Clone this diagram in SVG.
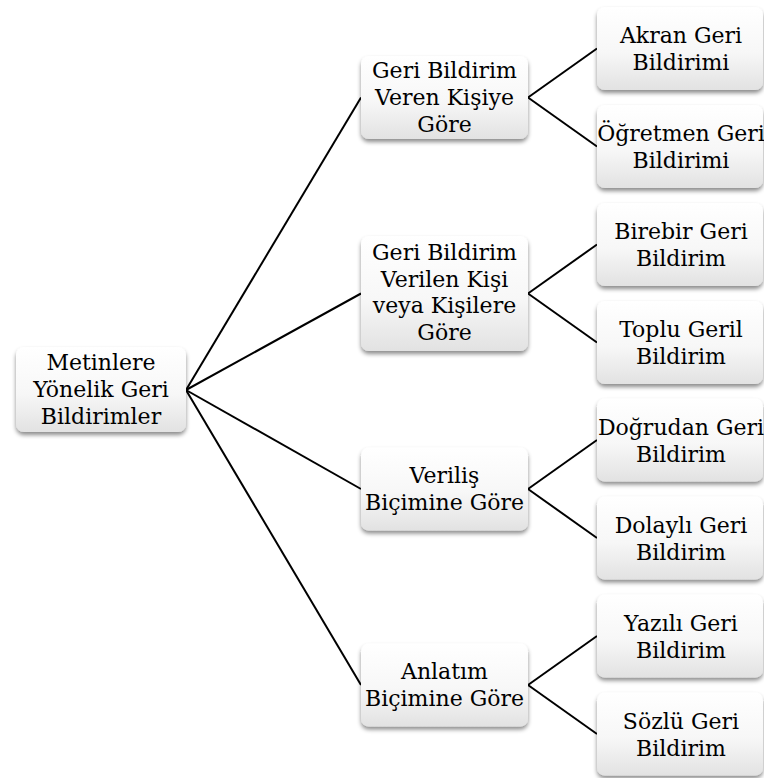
<svg xmlns="http://www.w3.org/2000/svg" width="764" height="778" viewBox="0 0 764 778">
  <defs>
    <linearGradient id="boxFill" x1="0" y1="0" x2="0" y2="1">
      <stop offset="0" stop-color="#ffffff"/>
      <stop offset="0.55" stop-color="#f7f7f7"/>
      <stop offset="1" stop-color="#e2e2e2"/>
    </linearGradient>
    <filter id="shadow" x="-10%" y="-10%" width="120%" height="130%">
      <feDropShadow dx="0" dy="3" stdDeviation="2" flood-color="#000" flood-opacity="0.45"/>
    </filter>
  </defs>
  <style>
    .box { fill: url(#boxFill); filter: url(#shadow); }
    .lbl { font-family: 'DejaVu Serif', 'Liberation Serif', serif; font-size: 22px; fill: #000; text-anchor: middle; }
    .conn { stroke: #000; stroke-width: 2; fill: none; }
  </style>
  <rect width="764" height="778" fill="#fff"/>

  <!-- connectors -->
  <g id="connectors" class="conn">
    <line x1="186" y1="390" x2="361" y2="97.5"/>
    <line x1="186" y1="390" x2="361" y2="293.5"/>
    <line x1="186" y1="390" x2="361" y2="489"/>
    <line x1="186" y1="390" x2="361" y2="685"/>
    <line x1="528" y1="97.5" x2="597" y2="48.5"/>
    <line x1="528" y1="97.5" x2="597" y2="146.5"/>
    <line x1="528" y1="293.5" x2="597" y2="244.5"/>
    <line x1="528" y1="293.5" x2="597" y2="342.5"/>
    <line x1="528" y1="489" x2="597" y2="440"/>
    <line x1="528" y1="489" x2="597" y2="538"/>
    <line x1="528" y1="685" x2="597" y2="636"/>
    <line x1="528" y1="685" x2="597" y2="734"/>
  </g>

  <!-- root -->
  <g id="root">
    <rect class="box" x="16" y="347" width="170" height="85" rx="8"/>
    <text class="lbl" x="101" y="370">Metinlere</text>
    <text class="lbl" x="101" y="397">Yönelik Geri</text>
    <text class="lbl" x="101" y="424">Bildirimler</text>
  </g>

  <!-- level 1 -->
  <g id="n-veren">
    <rect class="box" x="361" y="56" width="167" height="83" rx="8"/>
    <text class="lbl" x="444.5" y="78">Geri Bildirim</text>
    <text class="lbl" x="444.5" y="105">Veren Kişiye</text>
    <text class="lbl" x="444.5" y="132">Göre</text>
  </g>
  <g id="n-verilen">
    <rect class="box" x="361" y="236" width="167" height="115" rx="8"/>
    <text class="lbl" x="444.5" y="260">Geri Bildirim</text>
    <text class="lbl" x="444.5" y="287">Verilen Kişi</text>
    <text class="lbl" x="444.5" y="313">veya Kişilere</text>
    <text class="lbl" x="444.5" y="340">Göre</text>
  </g>
  <g id="n-verilis">
    <rect class="box" x="361" y="447.5" width="167" height="83" rx="8"/>
    <text class="lbl" x="444.5" y="483">Veriliş</text>
    <text class="lbl" x="444.5" y="510">Biçimine Göre</text>
  </g>
  <g id="n-anlatim">
    <rect class="box" x="361" y="643.5" width="167" height="83" rx="8"/>
    <text class="lbl" x="444.5" y="679">Anlatım</text>
    <text class="lbl" x="444.5" y="706">Biçimine Göre</text>
  </g>

  <!-- level 2 -->
  <g id="n-akran">
    <rect class="box" x="597" y="7" width="166" height="83" rx="8"/>
    <text class="lbl" x="681" y="43">Akran Geri</text>
    <text class="lbl" x="681" y="70">Bildirimi</text>
  </g>
  <g id="n-ogretmen">
    <rect class="box" x="597" y="105" width="166" height="83" rx="8"/>
    <text class="lbl" x="681" y="141">Öğretmen Geri</text>
    <text class="lbl" x="681" y="168">Bildirimi</text>
  </g>
  <g id="n-birebir">
    <rect class="box" x="597" y="203" width="166" height="83" rx="8"/>
    <text class="lbl" x="681" y="239">Birebir Geri</text>
    <text class="lbl" x="681" y="266">Bildirim</text>
  </g>
  <g id="n-toplu">
    <rect class="box" x="597" y="301" width="166" height="83" rx="8"/>
    <text class="lbl" x="681" y="337">Toplu Geril</text>
    <text class="lbl" x="681" y="364">Bildirim</text>
  </g>
  <g id="n-dogrudan">
    <rect class="box" x="597" y="398.5" width="166" height="83" rx="8"/>
    <text class="lbl" x="681" y="434.5">Doğrudan Geri</text>
    <text class="lbl" x="681" y="461.5">Bildirim</text>
  </g>
  <g id="n-dolayli">
    <rect class="box" x="597" y="496.5" width="166" height="83" rx="8"/>
    <text class="lbl" x="681" y="532.5">Dolaylı Geri</text>
    <text class="lbl" x="681" y="559.5">Bildirim</text>
  </g>
  <g id="n-yazili">
    <rect class="box" x="597" y="594.5" width="166" height="83" rx="8"/>
    <text class="lbl" x="681" y="630.5">Yazılı Geri</text>
    <text class="lbl" x="681" y="657.5">Bildirim</text>
  </g>
  <g id="n-sozlu">
    <rect class="box" x="597" y="692.5" width="166" height="83" rx="8"/>
    <text class="lbl" x="681" y="728.5">Sözlü Geri</text>
    <text class="lbl" x="681" y="755.5">Bildirim</text>
  </g>
</svg>
